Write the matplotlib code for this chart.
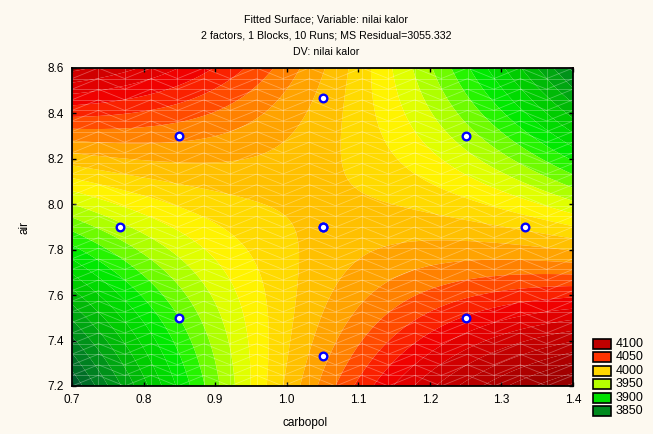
import numpy as np
import matplotlib
matplotlib.use("Agg")
import matplotlib.pyplot as plt
from matplotlib.colors import LinearSegmentedColormap, Normalize
from matplotlib.collections import LineCollection
from matplotlib.patches import Rectangle

plt.rcParams['font.family'] = ['Liberation Sans', 'DejaVu Sans']

# design points (central composite, 10 runs incl. 2 centre runs)
carbopol = [0.85, 1.25, 0.85, 1.25, 0.767, 1.333, 1.05, 1.05, 1.05, 1.05]
air = [7.5, 7.5, 8.3, 8.3, 7.9, 7.9, 7.334, 8.466, 7.9, 7.9]

# fitted quadratic (coded units: x=(carbopol-1.05)/0.2, y=(air-7.9)/0.4)
# b0, b1(x), b2(y), b11(x^2), b22(y^2), b12(xy)
coef = [4003.2, 13.46, -4.21, -12.56, 5.87, -49.68]
center = (1.05, 7.9)
step = (0.2, 0.4)

legend_levels = [4100, 4050, 4000, 3950, 3900, 3850]
legend_colors = ['#c00000', '#ff3300', '#ffd700', '#b5ff00', '#00e000', '#008a1e']

bg = '#fdf9f0'


def surface(c, a):
    x = (c - center[0]) / step[0]
    y = (a - center[1]) / step[1]
    b0, b1, b2, b11, b22, b12 = coef
    return b0 + b1 * x + b2 * y + b11 * x ** 2 + b22 * y ** 2 + b12 * x * y


anchors = [(3810, '#005030'), (3850, '#008a1e'), (3890, '#00c800'), (3925, '#00f000'),
           (3950, '#90ff00'), (3975, '#ffff00'), (3995, '#ffd700'), (4012, '#ffb400'),
           (4030, '#ff8800'), (4050, '#ff3300'), (4070, '#f00000'), (4100, '#c80000'),
           (4170, '#8c0000')]
vmin, vmax = anchors[0][0], anchors[-1][0]
cmap = LinearSegmentedColormap.from_list(
    'stat', [((v - vmin) / (vmax - vmin), col) for v, col in anchors])

fig = plt.figure(figsize=(6.53, 4.34), dpi=100, facecolor=bg)
ax = fig.add_axes([72 / 653, 1 - 386 / 434, 501 / 653, 318 / 434])
ax.set_facecolor(bg)

cc, aa = np.meshgrid(np.linspace(0.7, 1.4, 300), np.linspace(7.2, 8.6, 300))
zz = surface(cc, aa)
levels = np.arange(3800, 4187.5, 12.5)
ax.contourf(cc, aa, zz, levels=levels, cmap=cmap, norm=Normalize(vmin, vmax),
            antialiased=True)

# faint triangulation mesh
xm = np.linspace(0.7, 1.4, 20)
ym = np.linspace(7.2, 8.6, 31)
segs = [[(x, 7.2), (x, 8.6)] for x in xm] + [[(0.7, y), (1.4, y)] for y in ym]
for i in range(len(xm) - 1):
    for j in range(len(ym) - 1):
        if i % 2 == 0:
            segs.append([(xm[i], ym[j]), (xm[i + 1], ym[j + 1])])
        else:
            segs.append([(xm[i], ym[j + 1]), (xm[i + 1], ym[j])])
ax.add_collection(LineCollection(segs, colors='white', linewidths=0.6, alpha=0.3))

ax.plot(carbopol, air, 'o', ms=5.5, mfc='white', mec='#0000ff', mew=1.7, zorder=5)

ax.set_xlim(0.7, 1.4)
ax.set_ylim(7.2, 8.6)
ax.set_xticks(np.arange(0.7, 1.41, 0.1))
ax.set_yticks(np.arange(7.2, 8.61, 0.2))
ax.set_xticklabels(['%.1f' % v for v in np.arange(0.7, 1.41, 0.1)])
ax.set_yticklabels(['%.1f' % v for v in np.arange(7.2, 8.61, 0.2)])
ax.tick_params(direction='in', length=3, width=1, labelsize=8.5, top=True, right=True,
               pad=6)
for s in ax.spines.values():
    s.set_linewidth(1.3)

fig.text(305 / 653, 11 / 434, 'carbopol', ha='center', va='center', fontsize=8.5)
fig.text(25 / 653, 1 - 227 / 434, 'air', ha='center', va='center', fontsize=8.5,
         rotation=90)

fig.text(0.5, 1 - 19 / 434, 'Fitted Surface; Variable: nilai kalor', ha='center',
         va='center', fontsize=7.7)
fig.text(0.5, 1 - 36 / 434, '2 factors, 1 Blocks, 10 Runs; MS Residual=3055.332',
         ha='center', va='center', fontsize=7.7)
fig.text(0.5, 1 - 52 / 434, 'DV: nilai kalor', ha='center', va='center', fontsize=7.7)

# legend
for k, (lev, col) in enumerate(zip(legend_levels, legend_colors)):
    yc = 344 + k * 13.4
    fig.add_artist(Rectangle((593 / 653, 1 - (yc + 5) / 434), 18 / 653, 10 / 434,
                             transform=fig.transFigure, facecolor=col,
                             edgecolor='black', linewidth=1.2))
    fig.text(616 / 653, 1 - yc / 434, str(lev), ha='left', va='center', fontsize=9)

fig.savefig('out.png', dpi=100, facecolor=bg)
